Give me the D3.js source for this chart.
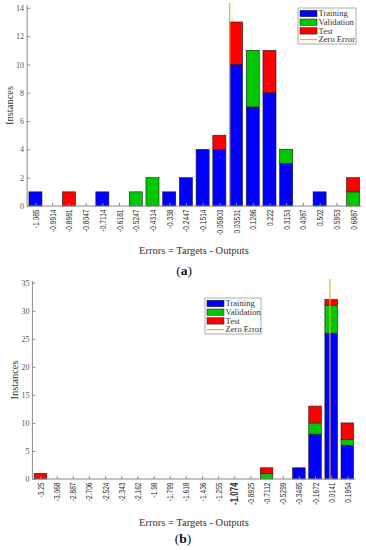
<!DOCTYPE html>
<html><head><meta charset="utf-8">
<script src="https://cdn.jsdelivr.net/npm/d3@7"></script>
<style>body{margin:0;background:#fff}svg{display:block}</style>
</head><body>
<svg id="c" width="366" height="550"></svg>
<script>
// ---- Panel (a) data ----
const binsA = ["-1.085","-0.9914","-0.8981","-0.8047","-0.7114","-0.6181","-0.5247","-0.4314","-0.338","-0.2447","-0.1514","-0.05803","0.03531","0.1286","0.222","0.3153","0.4087","0.502","0.5953","0.6887"];
const trainA = [1,0,0,0,1,0,0,0,1,2,4,4,10,7,8,3,0,1,0,0];
const valA   = [0,0,0,0,0,0,1,2,0,0,0,0,0,4,0,1,0,0,0,1];
const testA  = [0,0,1,0,0,0,0,0,0,0,0,1,3,0,3,0,0,0,0,1];
const yTicksA = [0,2,4,6,8,10,12,14];

// ---- Panel (b) data ----
const binsB = ["-3.25","-3.068","-2.887","-2.706","-2.524","-2.343","-2.162","-1.98","-1.799","-1.618","-1.436","-1.255","-1.074","-0.8925","-0.7112","-0.5299","-0.3485","-0.1672","0.0141","0.1954"];
const trainB = [0,0,0,0,0,0,0,0,0,0,0,0,0,0,0,0,2,8,26,6];
const valB   = [0,0,0,0,0,0,0,0,0,0,0,0,0,0,1,0,0,2,5,1];
const testB  = [1,0,0,0,0,0,0,0,0,0,0,0,0,0,1,0,0,3,1,3];
const yTicksB = [0,5,10,15,20,25,30,35];

const seriesNames = ["Training","Validation","Test"];
const colors = {Training:"#0000ff", Validation:"#00c800", Test:"#ff0000"};
const zeroColor = "#e8b030";
const SERIF = "'Liberation Serif', 'Times New Roman', serif";
const SANS = "'Liberation Sans', Arial, sans-serif";

const svg = d3.select("#c");

function panel(o) {
  const g = svg.append("g");
  const vals = o.bins.map(Number);
  const n = vals.length;
  const step = (vals[n-1]-vals[0])/(n-1);
  const x = d3.scaleLinear().domain([vals[0]-step/2, vals[n-1]+step/2]).range([o.left, o.right]);
  const y = d3.scaleLinear().domain([0, o.ymax]).range([o.bottom, o.top]);
  const bw = (x(vals[0]+step) - x(vals[0])) * 0.78;

  // stacked data
  const rows = o.bins.map((b,i)=>({bin:b, v:vals[i], Training:o.train[i], Validation:o.val[i], Test:o.test[i]}));
  const stack = d3.stack().keys(seriesNames)(rows);
  stack.forEach(layer=>{
    g.append("g").selectAll("rect").data(layer.filter(d=>d[1]>d[0])).join("rect")
      .attr("x", d=>x(d.data.v)-bw/2)
      .attr("width", bw)
      .attr("y", d=>y(d[1]))
      .attr("height", d=>y(d[0])-y(d[1]))
      .attr("fill", colors[layer.key])
      .attr("stroke", "#1a1a1a")
      .attr("stroke-width", 0.6);
  });

  // axes
  const ya = d3.axisLeft(y).tickValues(o.yticks).tickFormat(d3.format("d")).tickSize(-3).tickPadding(3);
  const yg = g.append("g").attr("transform", `translate(${o.left},0)`).call(ya);
  yg.select(".domain").attr("stroke","#8a8a8a").attr("d", `M0,${o.top}V${o.bottom}`);
  yg.selectAll(".tick line").attr("stroke","#8a8a8a");
  yg.selectAll(".tick text").attr("font-family", SERIF).attr("font-size", 8).attr("fill","#555");

  const isBig = d => o.bigLabel && o.bins[vals.indexOf(d)]===o.bigLabel;
  const xa = d3.axisBottom(x).tickValues(vals).tickFormat((d,i)=>o.bins[i]).tickSize(-3).tickPadding(0);
  const xg = g.append("g").attr("transform", `translate(0,${o.bottom})`).call(xa);
  xg.select(".domain").attr("stroke","#8a8a8a").attr("d", `M${o.left},0H${o.right}`);
  xg.selectAll(".tick line").attr("stroke","#8a8a8a");
  xg.selectAll(".tick text")
    .attr("font-family", SANS).attr("font-size", d=> isBig(d) ? 11 : 9.2)
    .attr("font-weight", d=> isBig(d) ? "bold" : "normal")
    .attr("fill","#333")
    .attr("text-anchor","end")
    .attr("dy","0.33em")
    .attr("transform","translate(0,3.5) rotate(-90) scale(0.72,1)")
    .attr("x",0).attr("y",0);

  // zero error line
  g.append("line")
    .attr("x1", x(0)).attr("x2", x(0))
    .attr("y1", o.top-2).attr("y2", o.bottom)
    .attr("stroke", zeroColor).attr("stroke-width", 1.2);

  // labels
  g.append("text").attr("x", o.xlabelX).attr("y", o.xlabelY).attr("text-anchor","middle")
    .attr("font-family", SERIF).attr("font-size", 10.5).attr("fill","#333")
    .text("Errors = Targets - Outputs");
  g.append("text").attr("transform", `translate(${o.ylabelX},${(o.top+o.bottom)/2}) rotate(-90)`)
    .attr("text-anchor","middle").attr("font-family", SERIF).attr("font-size", 10.5).attr("fill","#333")
    .text("Instances");
  const cap = g.append("text").attr("x", o.capX).attr("y", o.capY).attr("text-anchor","middle")
    .attr("font-family", SERIF).attr("font-size", 13.5).attr("fill","#111");
  cap.append("tspan").text("(");
  cap.append("tspan").attr("font-weight","bold").text(o.cap);
  cap.append("tspan").text(")");

  // legend
  const L = o.legend;
  const lg = g.append("g").attr("transform", `translate(${L.x},${L.y})`);
  lg.append("rect").attr("width", L.w).attr("height", L.h).attr("fill","#fff").attr("stroke","#9a9a9a").attr("stroke-width",0.8);
  const items = seriesNames.concat(["Zero Error"]);
  items.forEach((name,i)=>{
    const cy = 5.5 + i*8.7;
    if (i<3) {
      lg.append("rect").attr("x",2).attr("y",cy-3.2).attr("width",17).attr("height",6.4)
        .attr("fill", colors[name]).attr("stroke","#1a1a1a").attr("stroke-width",0.5);
    } else {
      lg.append("line").attr("x1",2).attr("x2",19).attr("y1",cy).attr("y2",cy).attr("stroke",zeroColor).attr("stroke-width",1.2);
    }
    lg.append("text").attr("x",20.5).attr("y",cy).attr("dy","0.33em")
      .attr("font-family", SERIF).attr("font-size", 8.6).attr("fill","#333").text(name);
  });
}

panel({bins:binsA, train:trainA, val:valA, test:testA, yticks:yTicksA, ymax:14.2,
  left:27.1, right:361.4, top:5, bottom:206,
  xlabelX:194, xlabelY:254, ylabelX:13, capX:184, capY:275, cap:"a",
  legend:{x:298, y:8, w:58, h:36}});

panel({bins:binsB, train:trainB, val:valB, test:testB, yticks:yTicksB, ymax:35.3,
  left:32.4, right:355.4, top:281, bottom:479, bigLabel:"-1.074",
  xlabelX:194, xlabelY:526, ylabelX:18, capX:183, capY:543, cap:"b",
  legend:{x:205, y:298, w:56, h:36}});
</script>
</body></html>
